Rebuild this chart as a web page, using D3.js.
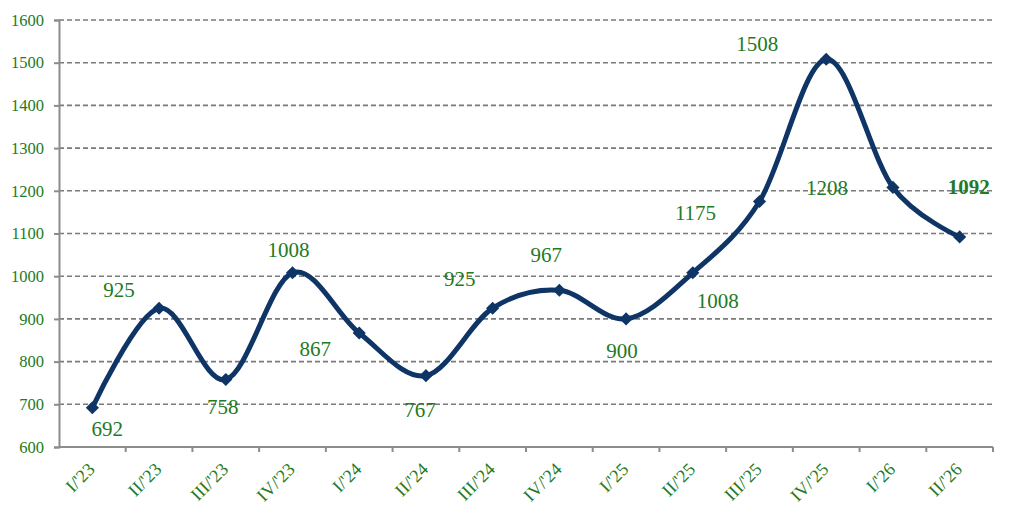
<!DOCTYPE html>
<html>
<head>
<meta charset="utf-8">
<script src="https://cdn.jsdelivr.net/npm/d3@7"></script>
<style>
  body { margin: 0; background: #fff; }
  svg text { font-family: "Liberation Serif", "Times New Roman", serif; }
</style>
</head>
<body>
<svg id="chart" width="1015" height="518"></svg>
<script>
  // quarters and values
  const quarters = ["I/'23", "II/'23", "III/'23", "IV/'23", "I/'24", "II/'24", "III/'24",
                    "IV/'24", "I/'25", "II/'25", "III/'25", "IV/'25", "I/'26", "II/'26"];
  const values = [692, 925, 758, 1008, 867, 767, 925, 967, 900, 1008, 1175, 1508, 1208, 1092];
  const yTicks = [600, 700, 800, 900, 1000, 1100, 1200, 1300, 1400, 1500, 1600];

  // where each value label sits relative to its point (layout only)
  const labelOffsets = [[15, 28], [-40, -11], [-3, 34], [-4, -16], [-44, 23], [-6, 41],
                        [-33, -22], [-13, -28], [-4, 39], [25, 35], [-64, 19], [-69, -8],
                        [-66, 8], [9, -43]];

  const svg = d3.select("#chart");
  const margin = {top: 20, right: 22, bottom: 71, left: 59};
  const width = 1015 - margin.left - margin.right;
  const height = 518 - margin.top - margin.bottom;
  const green = "#237a23";
  const navy = "#0e3566";

  const g = svg.append("g")
    .attr("transform", "translate(" + margin.left + "," + margin.top + ")");

  const x = d3.scaleBand().domain(quarters).range([0, width]);
  const y = d3.scaleLinear().domain([600, 1600]).range([height, 0]);
  const cx = d => x(d) + x.bandwidth() / 2;

  // dashed gridlines
  g.selectAll("line.grid")
    .data(yTicks.slice(1))
    .enter()
    .append("line")
      .attr("class", "grid")
      .attr("x1", 0)
      .attr("x2", width)
      .attr("y1", d => y(d))
      .attr("y2", d => y(d))
      .attr("stroke", "#7a7a7a")
      .attr("stroke-width", 1.6)
      .attr("stroke-dasharray", "5,3");

  // y axis
  const yAxis = g.append("g")
    .call(d3.axisLeft(y).tickValues(yTicks).tickFormat(d3.format("d")).tickSize(5).tickPadding(10));
  yAxis.select(".domain").attr("stroke", "#8c8c8c").attr("stroke-width", 2);
  yAxis.selectAll(".tick line").attr("stroke", "#8c8c8c").attr("stroke-width", 2);
  yAxis.selectAll("text")
    .attr("fill", green)
    .style("font-size", "16.5px")
    .style("font-family", "Liberation Serif, serif");

  // x axis with ticks on the band edges
  const xAxis = g.append("g").attr("transform", "translate(0," + height + ")");
  xAxis.append("line")
    .attr("x1", 0).attr("x2", width)
    .attr("stroke", "#8c8c8c").attr("stroke-width", 2);
  xAxis.selectAll("line.tick")
    .data(quarters)
    .enter()
    .append("line")
      .attr("class", "tick")
      .attr("x1", d => x(d) + x.bandwidth())
      .attr("x2", d => x(d) + x.bandwidth())
      .attr("y1", 0).attr("y2", 5)
      .attr("stroke", "#8c8c8c").attr("stroke-width", 2);
  xAxis.selectAll("text")
    .data(quarters)
    .enter()
    .append("text")
      .attr("transform", d => "translate(" + (cx(d) - 1) + ",19) rotate(-45)")
      .attr("text-anchor", "end")
      .attr("dy", "0.35em")
      .attr("fill", green)
      .style("font-size", "18px")
      .text(d => d);

  // smoothed line
  const line = d3.line()
    .x((d, i) => cx(quarters[i]))
    .y(d => y(d))
    .curve(d3.curveCatmullRom.alpha(0));

  g.append("path")
    .datum(values)
    .attr("d", line)
    .attr("fill", "none")
    .attr("stroke", navy)
    .attr("stroke-width", 5)
    .attr("stroke-linejoin", "round");

  // diamond markers
  g.selectAll("path.marker")
    .data(values)
    .enter()
    .append("path")
      .attr("class", "marker")
      .attr("d", d3.symbol().type(d3.symbolDiamond2).size(110))
      .attr("transform", (d, i) => "translate(" + cx(quarters[i]) + "," + y(d) + ")")
      .attr("fill", navy);

  // value labels
  g.selectAll("text.value")
    .data(values)
    .enter()
    .append("text")
      .attr("class", "value")
      .attr("x", (d, i) => cx(quarters[i]) + labelOffsets[i][0])
      .attr("y", (d, i) => y(d) + labelOffsets[i][1])
      .attr("text-anchor", "middle")
      .attr("fill", green)
      .style("font-size", "21px")
      .style("font-weight", (d, i) => i === values.length - 1 ? "bold" : "normal")
      .text(d => d);
</script>
</body>
</html>
